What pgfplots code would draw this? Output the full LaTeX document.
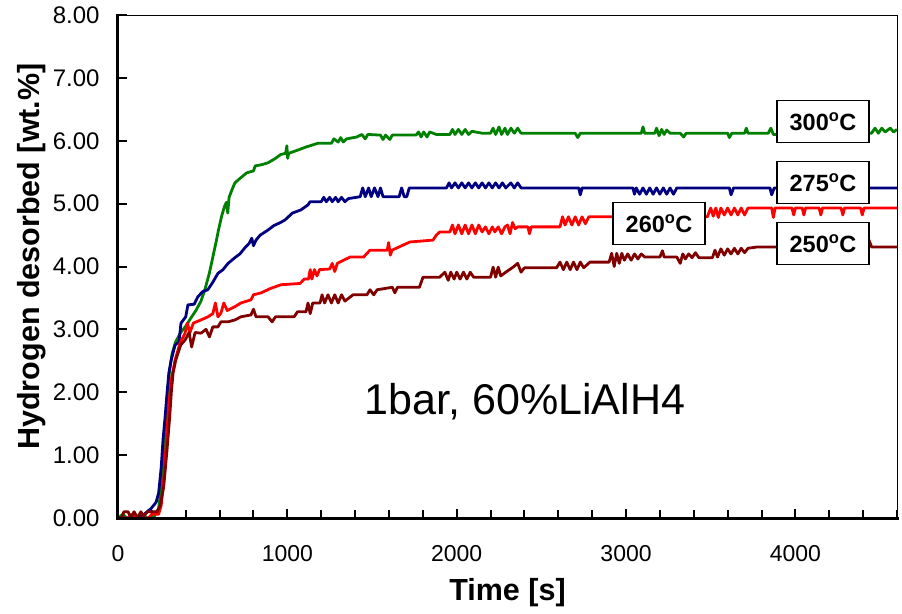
\documentclass[border=0pt]{standalone}
\usepackage{pgfplots}
\pgfplotsset{compat=1.18}
\usepackage{fontspec}
\setmainfont{Liberation Sans}
\definecolor{cgreen}{RGB}{0,128,0}
\definecolor{cblue}{RGB}{0,0,128}
\definecolor{cred}{RGB}{255,0,0}
\definecolor{cmaroon}{RGB}{128,0,0}
\begin{document}
\begin{tikzpicture}
\begin{axis}[
  scale only axis, width=779pt, height=503pt,
  xmin=0, xmax=4600, ymin=0, ymax=8,
  xtick={0,1000,2000,3000,4000},
  minor xtick={0,200,...,4600},
  ytick={0,1,...,8},
  tick pos=left, tick align=inside,
  major tick length=9pt, minor tick length=8pt,
  every tick/.style={black, line width=2pt},
  axis line style={line width=0.8pt},
  clip mode=individual,
  scaled ticks=false,
  /pgf/number format/assume math mode=true,
  tick label style={font=\fontsize{23}{26}\selectfont},
  xticklabel style={/pgf/number format/1000 sep={}, yshift=-24pt},
  yticklabel style={/pgf/number format/fixed, /pgf/number format/fixed zerofill, /pgf/number format/precision=2, xshift=-15pt, font=\fontsize{24}{27}\selectfont},
  xlabel={Time [s]},
  ylabel={Hydrogen desorbed [wt.\%]},
  every axis x label/.style={at={(axis description cs:0.5,-0.149)}, anchor=center, font=\fontsize{30.5}{34}\selectfont\bfseries},
  every axis y label/.style={at={(axis description cs:-0.111,0.52)}, anchor=center, rotate=90, font=\fontsize{30.5}{34}\selectfont\bfseries},
  every axis plot/.append style={line width=2.8pt, line join=round},
]
% 300 C
\addplot[cgreen, mark=none] coordinates {
(0,0) (30,0.06) (50,0) (120,0) (150,0.06) (170,0) (215,0.03) (240,0.15) (255,0.5) (268,1.0) (280,1.5) (292,1.95) (305,2.35) (320,2.62) (340,2.8) (370,2.95) (400,3.05) (430,3.18) (460,3.3) (490,3.45) (515,3.65) (540,3.9) (560,4.15) (580,4.4) (595,4.6) (612,4.8) (628,4.95) (640,5.02) (648,4.85) (656,5.1) (670,5.2) (690,5.33) (720,5.4) (760,5.49) (800,5.52) (810,5.6) (850,5.62) (886,5.65) (930,5.72) (960,5.78) (990,5.8) (997,5.92) (1002,5.72) (1008,5.8) (1060,5.85) (1110,5.9) (1180,5.96) (1260,5.96) (1275,6.03) (1300,5.98) (1315,6.05) (1330,5.98) (1350,6.03) (1410,6.06) (1440,6.1) (1460,6.03) (1475,6.1) (1550,6.09) (1565,6.02) (1580,6.09) (1605,6.02) (1620,6.09) (1760,6.09) (1775,6.14) (1790,6.06) (1805,6.14) (1825,6.06) (1840,6.14) (1880,6.1) (1960,6.1) (1975,6.18) (1990,6.1) (2010,6.18) (2030,6.1) (2050,6.18) (2070,6.1) (2090,6.15) (2150,6.12) (2200,6.12) (2215,6.2) (2230,6.1) (2250,6.22) (2265,6.1) (2285,6.2) (2300,6.1) (2320,6.2) (2340,6.12) (2360,6.2) (2380,6.12) (2700,6.12) (2715,6.05) (2730,6.12) (3090,6.12) (3100,6.22) (3110,6.12) (3170,6.12) (3180,6.2) (3195,6.08) (3210,6.18) (3225,6.1) (3240,6.17) (3260,6.12) (3320,6.12) (3340,6.06) (3355,6.12) (3600,6.12) (3610,6.05) (3625,6.12) (3700,6.12) (3710,6.2) (3720,6.12) (3840,6.12) (3855,6.2) (3870,6.1) (4450,6.12) (4470,6.2) (4490,6.12) (4510,6.2) (4530,6.14) (4560,6.2) (4580,6.14) (4600,6.18)
};
% 275 C
\addplot[cblue, mark=none] coordinates {
(0,0) (120,0) (150,0.05) (195,0.15) (225,0.25) (240,0.4) (255,0.8) (266,1.25) (278,1.6) (290,2.0) (300,2.3) (313,2.5) (337,2.75) (360,2.8) (372,3.1) (400,3.2) (413,3.39) (450,3.4) (472,3.52) (500,3.6) (530,3.63) (560,3.75) (590,3.89) (620,3.95) (650,4.05) (690,4.14) (720,4.2) (750,4.3) (775,4.37) (790,4.45) (800,4.33) (815,4.42) (840,4.5) (886,4.58) (920,4.65) (960,4.7) (986,4.74) (1030,4.85) (1080,4.9) (1122,4.98) (1134,5.03) (1200,5.03) (1215,5.1) (1230,5.03) (1250,5.1) (1265,5.03) (1285,5.1) (1300,5.03) (1320,5.1) (1340,5.03) (1360,5.08) (1430,5.11) (1445,5.25) (1460,5.11) (1480,5.25) (1495,5.11) (1515,5.25) (1535,5.11) (1550,5.25) (1565,5.11) (1660,5.11) (1675,5.25) (1690,5.11) (1705,5.11) (1720,5.25) (1940,5.25) (1955,5.33) (1970,5.25) (1990,5.33) (2010,5.25) (2030,5.33) (2050,5.25) (2070,5.33) (2090,5.25) (2110,5.33) (2130,5.25) (2150,5.33) (2170,5.25) (2190,5.33) (2210,5.25) (2230,5.33) (2250,5.25) (2270,5.33) (2290,5.25) (2320,5.33) (2340,5.25) (2360,5.33) (2380,5.25) (2720,5.25) (2730,5.14) (2740,5.25) (3040,5.25) (3050,5.15) (3060,5.25) (3080,5.15) (3100,5.25) (3120,5.15) (3140,5.25) (3160,5.15) (3180,5.25) (3200,5.15) (3220,5.25) (3240,5.15) (3260,5.25) (3280,5.15) (3300,5.25) (3610,5.25) (3620,5.14) (3635,5.25) (3850,5.25) (3860,5.14) (3875,5.25) (4600,5.25)
};
% 260 C
\addplot[cred, mark=none] coordinates {
(0,0) (60,0) (80,0.06) (110,0) (180,0) (200,0.06) (240,0.06) (255,0.2) (270,0.6) (285,1.2) (300,1.8) (315,2.2) (337,2.51) (366,2.78) (396,2.94) (410,3.1) (425,2.95) (445,3.1) (490,3.15) (531,3.2) (560,3.25) (575,3.42) (590,3.2) (608,3.26) (625,3.42) (645,3.3) (690,3.36) (726,3.42) (785,3.47) (800,3.55) (844,3.58) (900,3.65) (962,3.71) (1075,3.73) (1100,3.8) (1125,3.8) (1135,3.95) (1145,3.8) (1160,3.95) (1175,3.85) (1190,3.95) (1250,3.96) (1265,4.05) (1280,3.92) (1295,4.05) (1370,4.15) (1450,4.15) (1488,4.26) (1590,4.26) (1598,4.38) (1608,4.18) (1618,4.26) (1724,4.39) (1860,4.42) (1880,4.5) (1900,4.55) (1960,4.55) (1975,4.66) (1990,4.52) (2010,4.66) (2030,4.52) (2050,4.66) (2070,4.52) (2090,4.66) (2110,4.52) (2130,4.66) (2150,4.55) (2170,4.63) (2190,4.52) (2210,4.63) (2225,4.55) (2245,4.63) (2265,4.52) (2285,4.63) (2300,4.66) (2315,4.52) (2330,4.7) (2345,4.6) (2360,4.63) (2420,4.63) (2430,4.52) (2440,4.63) (2610,4.63) (2625,4.79) (2640,4.66) (2660,4.79) (2680,4.66) (2700,4.79) (2720,4.66) (2740,4.79) (2760,4.68) (2780,4.79) (3480,4.79) (3500,4.93) (3515,4.8) (3530,4.93) (3545,4.78) (3560,4.93) (3580,4.82) (3600,4.93) (3620,4.82) (3640,4.93) (3660,4.82) (3680,4.93) (3700,4.82) (3720,4.93) (3860,4.93) (3870,4.78) (3880,4.93) (3980,4.93) (3990,4.82) (4000,4.93) (4040,4.93) (4050,4.82) (4060,4.93) (4140,4.93) (4150,4.82) (4160,4.93) (4270,4.93) (4280,4.82) (4290,4.93) (4385,4.93) (4395,4.82) (4405,4.93) (4600,4.93)
};
% 250 C
\addplot[cmaroon, mark=none] coordinates {
(0,0) (20,0) (35,0.1) (60,0.1) (75,0) (95,0.1) (115,0) (135,0.1) (150,0.03) (175,0.1) (230,0.1) (250,0.2) (270,0.5) (290,1.1) (305,1.6) (315,2.0) (325,2.3) (340,2.5) (354,2.62) (370,2.75) (396,2.83) (420,2.95) (435,2.72) (455,2.95) (490,2.94) (520,3.0) (540,2.88) (560,3.04) (590,3.04) (608,3.12) (650,3.12) (690,3.15) (726,3.2) (785,3.23) (800,3.32) (815,3.2) (886,3.2) (910,3.12) (930,3.2) (1040,3.2) (1060,3.28) (1110,3.28) (1122,3.42) (1135,3.25) (1150,3.42) (1193,3.42) (1205,3.55) (1220,3.42) (1240,3.55) (1260,3.42) (1280,3.55) (1300,3.42) (1320,3.55) (1340,3.45) (1388,3.55) (1470,3.55) (1488,3.63) (1510,3.55) (1530,3.63) (1620,3.67) (1635,3.58) (1650,3.67) (1780,3.67) (1801,3.83) (1900,3.83) (1930,3.91) (1950,3.78) (1965,3.91) (1985,3.8) (2000,3.91) (2020,3.8) (2040,3.91) (2060,3.8) (2080,3.91) (2100,3.83) (2200,3.83) (2215,3.99) (2230,3.83) (2245,3.99) (2260,3.85) (2290,3.91) (2333,3.99) (2360,4.05) (2380,3.91) (2400,3.98) (2590,3.98) (2610,4.07) (2630,3.95) (2650,4.07) (2670,3.95) (2690,4.07) (2710,3.95) (2730,4.07) (2750,3.98) (2787,4.07) (2900,4.07) (2915,4.21) (2930,4.0) (2945,4.21) (2960,4.05) (2975,4.21) (2990,4.1) (3010,4.2) (3030,4.1) (3050,4.2) (3070,4.12) (3090,4.2) (3110,4.15) (3200,4.15) (3215,4.25) (3225,4.15) (3300,4.15) (3320,4.05) (3335,4.2) (3350,4.12) (3370,4.2) (3390,4.14) (3410,4.22) (3430,4.14) (3510,4.14) (3525,4.26) (3540,4.15) (3560,4.28) (3580,4.18) (3600,4.28) (3620,4.2) (3640,4.29) (3660,4.2) (3680,4.29) (3700,4.22) (3720,4.29) (3773,4.31) (4420,4.31) (4430,4.45) (4450,4.31) (4600,4.31)
};
\coordinate (O) at (rel axis cs:0,0);
\coordinate (TL) at (rel axis cs:0,1);
\coordinate (BR) at (rel axis cs:1,0);
\tikzset{lbl/.style={draw=black, line width=1.2pt, fill=white, minimum width=92pt, minimum height=42pt, inner sep=0pt, font=\fontsize{23.5}{26}\selectfont\bfseries}}
\node[lbl] at (axis cs:4163,6.31) {300\textsuperscript{o}C};
\node[lbl] at (axis cs:4163,5.34) {275\textsuperscript{o}C};
\node[lbl] at (axis cs:3195,4.68) {260\textsuperscript{o}C};
\node[lbl] at (axis cs:4163,4.37) {250\textsuperscript{o}C};
\node[font=\fontsize{43}{48}\selectfont] at (axis cs:2403,1.85) {1bar, 60\%LiAlH4};
\end{axis}
\draw[line width=3pt, line cap=rect] (TL) -- (O) -- (BR);
\pgfresetboundingbox
\useasboundingbox ([xshift=-118pt,yshift=-95pt]O) rectangle ++(902pt,613pt);
\end{tikzpicture}
\end{document}
